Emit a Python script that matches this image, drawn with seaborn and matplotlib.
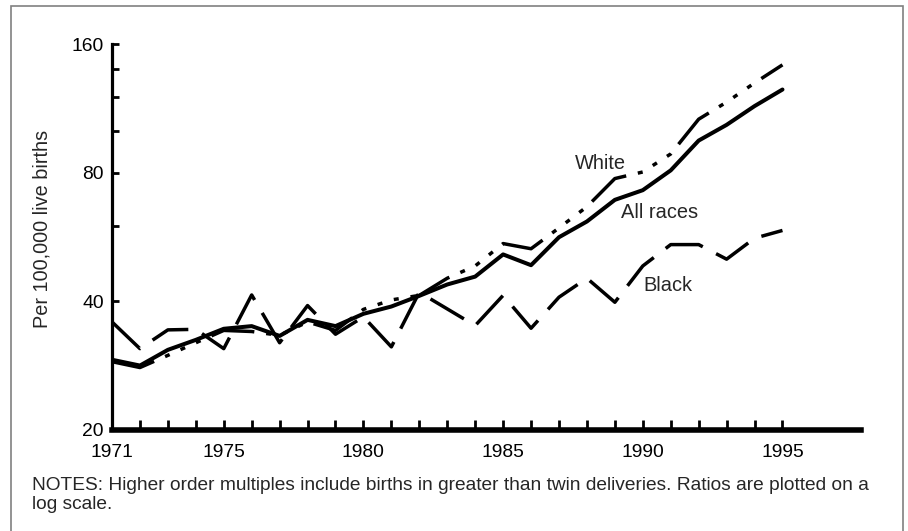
import numpy as np
import pandas as pd
import matplotlib
matplotlib.use("Agg")
import matplotlib.pyplot as plt
import seaborn as sns
from matplotlib.ticker import FixedLocator, FixedFormatter, NullFormatter
from matplotlib.patches import Rectangle

# ---- data ----
years = list(range(1971, 1996))
all_races = [29.2, 28.3, 30.8, 32.5, 34.5, 35.0, 33.2, 36.2, 35.0, 37.4, 38.9,
             41.2, 43.8, 45.7, 51.5, 48.6, 56.5, 61.5, 69.1, 72.8, 81.0, 95.1,
             103.5, 114.5, 125.2]
white = [28.9, 28.0, 29.9, 32.0, 34.2, 34.0, 33.3, 35.8, 34.2, 38.3, 40.3,
         41.3, 45.3, 48.4, 54.6, 53.1, 59.4, 66.6, 77.5, 80.3, 88.5, 106.7,
         117.0, 129.7, 143.0]
black = [35.8, 31.0, 34.3, 34.4, 31.0, 41.4, 32.0, 39.1, 33.5, 36.8, 31.3,
         42.0, 38.4, 35.1, 41.3, 34.6, 40.9, 45.3, 39.8, 48.4, 54.3, 54.3,
         50.2, 56.2, 58.6]
series_names = ["All races", "White", "Black"]
y_major = [20, 40, 80, 160]
y_minor = [60, 100, 120, 140]
x_major = [1971, 1975, 1980, 1985, 1990, 1995]
notes_lines = ["NOTES: Higher order multiples include births in greater than twin deliveries. Ratios are plotted on a",
               "log scale."]
ylabel_text = "Per 100,000 live births"

sns.set_style("ticks")
plt.rcParams['font.family'] = ['Liberation Sans', 'DejaVu Sans']
plt.rcParams['lines.scale_dashes'] = False

df = pd.DataFrame({
    "year": years * 3,
    "ratio": all_races + white + black,
    "race": [series_names[0]] * len(years) + [series_names[1]] * len(years) + [series_names[2]] * len(years),
})

W, H = 908, 531
fig = plt.figure(figsize=(W / 100, H / 100), dpi=100)
x_left, x_right, y_top, y_bot = 112, 860.7, 44, 430
ax = fig.add_axes([x_left / W, 1 - y_bot / H, (x_right - x_left) / W, (y_bot - y_top) / H])

sns.lineplot(
    data=df, x="year", y="ratio", hue="race", style="race", size="race",
    palette={n: "black" for n in series_names},
    dashes={"All races": "", "White": (31.7, 8.6, 3.6, 8.6, 3.6, 8.6, 3.6, 8.6),
            "Black": (28.0, 10.8)},
    sizes={"All races": 2.9, "White": 2.5, "Black": 2.5},
    errorbar=None, legend=False, ax=ax,
)

ax.set_yscale("log")
ax.set_xlim(1971, 1997.8)
ax.set_ylim(20, 160)
ax.yaxis.set_major_locator(FixedLocator(y_major))
ax.yaxis.set_major_formatter(FixedFormatter([str(v) for v in y_major]))
ax.yaxis.set_minor_locator(FixedLocator(y_minor))
ax.yaxis.set_minor_formatter(NullFormatter())
ax.xaxis.set_major_locator(FixedLocator(x_major))
ax.xaxis.set_major_formatter(FixedFormatter([str(v) for v in x_major]))
ax.xaxis.set_minor_locator(FixedLocator([y for y in years if y not in x_major]))
ax.xaxis.set_minor_formatter(NullFormatter())

ax.set_xlabel("")
ax.set_ylabel("")
for s in ["top", "right"]:
    ax.spines[s].set_visible(False)
ax.spines["bottom"].set_linewidth(4.0)
ax.spines["left"].set_linewidth(2.3)
ax.spines["bottom"].set_color("black")
ax.spines["left"].set_color("black")

ax.tick_params(axis="x", which="both", direction="in", length=7.2, width=2.0,
               color="black", labelsize=13.9, pad=10, labelcolor="black")
ax.tick_params(axis="y", which="both", direction="in", length=4.8, width=2.0,
               color="black", labelsize=13.9, pad=5.8, labelcolor="black")

# series labels
ax.text(1988.49, 81.7, "White", ha="center", va="baseline", fontsize=14.4)
ax.text(1990.60, 62.6, "All races", ha="center", va="baseline", fontsize=14.4)
ax.text(1990.89, 42.4, "Black", ha="center", va="baseline", fontsize=14.4)

fig.text(42 / W, 1 - 229 / H, ylabel_text, rotation=90, ha="center", va="center", fontsize=14.3)
fig.text(32 / W, 1 - 490 / H, notes_lines[0], ha="left", va="baseline", fontsize=13.8)
fig.text(32 / W, 1 - 509 / H, notes_lines[1], ha="left", va="baseline", fontsize=13.8)

# grey frame
fig.add_artist(Rectangle((10.5 / W, -0.02), (902.5 - 10.5) / W, 1.02 - 6 / H,
                         transform=fig.transFigure, fill=False, edgecolor="#808080", linewidth=1.2))

fig.savefig("out.png", dpi=100)
